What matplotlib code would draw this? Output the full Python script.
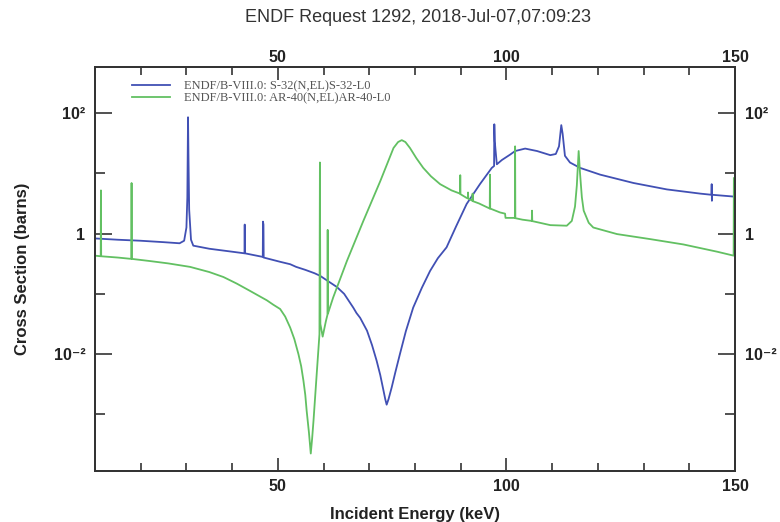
import matplotlib
matplotlib.use("Agg")
import matplotlib.pyplot as plt
from matplotlib.ticker import FixedLocator, NullFormatter, FixedFormatter

plt.rcParams['font.family'] = ['Liberation Sans', 'DejaVu Sans']

title_text = "ENDF Request 1292, 2018-Jul-07,07:09:23"
series_labels = ["ENDF/B-VIII.0: S-32(N,EL)S-32-L0",
                 "ENDF/B-VIII.0: AR-40(N,EL)AR-40-L0"]
x_label = "Incident Energy (keV)"
y_label = "Cross Section (barns)"

x_major = [50, 100, 150]
x_minor = [10, 20, 30, 40, 60, 70, 80, 90, 110, 120, 130, 140]
y_major = [1e-2, 1, 1e2]
y_major_labels = ["10⁻²", "1", "10²"]
y_minor = [1e-3, 1e-1, 1e1]

# S-32 elastic (keV, barns)
s32_energy = [10.0, 15, 20, 25, 28.5, 29.5, 30.0, 30.2, 30.35, 30.45, 30.6, 31.0, 31.5,
              35, 40, 42.7, 42.75, 42.8, 46.7, 46.75, 46.85, 46.9, 50.5, 52.7, 54, 56,
              58, 59.2, 61, 62.9, 64.5, 66.5, 67.2, 68, 69.5, 70.6, 71.6, 72.4, 73.1,
              73.5, 73.8, 74.2, 74.9, 75.7, 76.7, 78.0, 79.6, 81.5, 83.3, 85, 86.9, 89,
              91.3, 94.2, 96.8, 97.3, 97.35, 97.45, 97.6, 97.9, 99, 100.8, 101.9, 104.1,
              106.7, 109.6, 110.8, 111.5, 112.0, 112.3, 112.8, 113.9, 116.1, 120.5,
              127.8, 135.1, 142.4, 144.85, 144.9, 144.95, 145.0, 149.9, 150]
s32_xs = [0.83, 0.79, 0.76, 0.72, 0.69, 0.76, 1.26, 4.0, 85, 18, 2.5, 0.79, 0.63,
          0.56, 0.50, 0.47, 1.41, 0.47, 0.41, 1.58, 1.41, 0.40, 0.34, 0.31, 0.28, 0.25,
          0.22, 0.20, 0.162, 0.13, 0.10, 0.059, 0.048, 0.040, 0.0245, 0.0141, 0.0078,
          0.0045, 0.0025, 0.00178, 0.00145, 0.00178, 0.0028, 0.0050, 0.010, 0.024,
          0.059, 0.126, 0.24, 0.39, 0.59, 1.32, 3.1, 6.6, 12.3, 13.2, 65, 34, 25, 14.1,
          16.6, 20.4, 23.4, 25.7, 23.4, 20.0, 20.9, 28, 63, 45, 19.5, 15.1, 12.3, 9.5,
          6.9, 5.4, 4.6, 4.4, 6.6, 3.5, 4.4, 4.1, 4.1]

# Ar-40 elastic (keV, barns)
ar40_energy = [10.0, 11.25, 11.3, 11.35, 15, 17.95, 18.0, 18.05, 22, 26, 30.8, 35,
               38.1, 41, 43.9, 47.6, 49, 50.5, 51.6, 52.7, 53.6, 54.5, 55.1, 55.6, 56.0,
               56.3, 56.8, 57.2, 57.5, 57.8, 58.5, 59.1, 59.2, 59.3, 59.8, 60.5, 60.85,
               60.9, 60.95, 62.1, 65.1, 68.7, 72.4, 75.3, 76.3, 77.1, 77.9, 78.9, 80.3,
               81.8, 83.5, 85.5, 88, 89.85, 89.9, 89.95, 91.3, 91.55, 91.6, 91.65, 92.55,
               92.6, 92.65, 94, 96.35, 96.4, 96.45, 98.6, 99.7, 99.8, 101.85, 101.9,
               101.95, 103.5, 105.55, 105.6, 105.65, 109.6, 113.2, 114.3, 115.0, 115.4,
               115.8, 116.1, 116.5, 116.9, 118, 119.0, 124.2, 131.4, 138.7, 146.1,
               149.7, 149.75]
ar40_xs = [0.43, 0.42, 5.2, 0.42, 0.40, 0.38, 6.9, 0.38, 0.35, 0.32, 0.28, 0.23,
           0.19, 0.148, 0.112, 0.078, 0.066, 0.056, 0.042, 0.0275, 0.0178, 0.010,
           0.0063, 0.0036, 0.0021, 0.00115, 0.0005, 0.000224, 0.0004, 0.00079, 0.0047,
           0.0214, 15.1, 0.0316, 0.0195, 0.035, 0.045, 1.15, 0.047, 0.087, 0.35, 1.62,
           7.4, 26.3, 33, 35.5, 33, 26.3, 17.8, 12.3, 8.9, 6.6, 5.2, 4.6, 9.3, 4.5,
           3.9, 3.85, 4.8, 3.8, 3.5, 4.6, 3.45, 3.16, 2.6, 9.5, 2.6, 2.24, 2.14, 1.82,
           1.82, 28, 1.80, 1.70, 1.62, 2.4, 1.61, 1.38, 1.35, 1.62, 2.8, 6.3, 23.4, 10,
           4.0, 2.4, 1.51, 1.26, 0.98, 0.81, 0.66, 0.50, 0.43, 8.3]

blue = "#4150b4"
green = "#62c062"
ink = '#222222'
spine_col = '#333333'

fig = plt.figure(figsize=(7.8, 5.22), dpi=100)
ax = fig.add_axes([95 / 780, 1 - 471 / 522, 640 / 780, 404 / 522])

ax.plot(s32_energy, s32_xs, color=blue, lw=1.3, label=series_labels[0])
ax.plot(ar40_energy, ar40_xs, color=green, lw=1.3, label=series_labels[1])

ax.set_yscale('log')
ax.set_xlim(10, 150)
ax.set_ylim(1.15e-4, 5.8e2)

ax.xaxis.set_major_locator(FixedLocator(x_major))
ax.xaxis.set_minor_locator(FixedLocator(x_minor))
ax.yaxis.set_major_locator(FixedLocator(y_major))
ax.yaxis.set_major_formatter(FixedFormatter(y_major_labels))
ax.yaxis.set_minor_locator(FixedLocator(y_minor))
ax.yaxis.set_minor_formatter(NullFormatter())

ax.tick_params(which='both', direction='in', top=False, right=True,
               labelright=True, width=1.2, color=spine_col)
ax.tick_params(axis='x', which='major', length=9.5, pad=6, labelsize=11.5)
ax.tick_params(axis='x', which='minor', length=6)
ax.tick_params(axis='y', which='major', length=12.5, pad=7, labelsize=11.5)
ax.tick_params(axis='y', which='minor', length=7)

# top axis with identical ticks
axt = ax.twiny()
axt.set_xlim(ax.get_xlim())
axt.xaxis.set_major_locator(FixedLocator(x_major))
axt.xaxis.set_minor_locator(FixedLocator(x_minor))
axt.tick_params(which='both', direction='in', width=1.2, color=spine_col)
axt.tick_params(axis='x', which='major', length=9.5, pad=1.5, labelsize=11.5)
axt.tick_params(axis='x', which='minor', length=6)

for a in (ax, axt):
    for t in a.xaxis.get_major_ticks() + a.yaxis.get_major_ticks():
        for lab in (t.label1, t.label2):
            lab.set_fontweight('bold')
            lab.set_color(ink)
    for s in a.spines.values():
        s.set_linewidth(1.3)
        s.set_color(spine_col)

ax.set_xlabel(x_label, fontsize=12, fontweight='bold', labelpad=9, color=ink)
ax.set_ylabel(y_label, fontsize=12, fontweight='bold', labelpad=17, color=ink)

fig.text(418 / 780, 1 - 17 / 522, title_text, ha='center', va='center',
         fontsize=13, color='#333333')

leg = ax.legend(loc='upper left', bbox_to_anchor=((132 - 95) / 640, (471 - 80) / 404),
                frameon=False, borderpad=0, borderaxespad=0, handlelength=3.0,
                handletextpad=1.2, labelspacing=0.02,
                prop={'family': ['Liberation Serif', 'DejaVu Serif'], 'size': 9})
for t in leg.get_texts():
    t.set_color('#555555')

fig.savefig("out.png", dpi=100)
